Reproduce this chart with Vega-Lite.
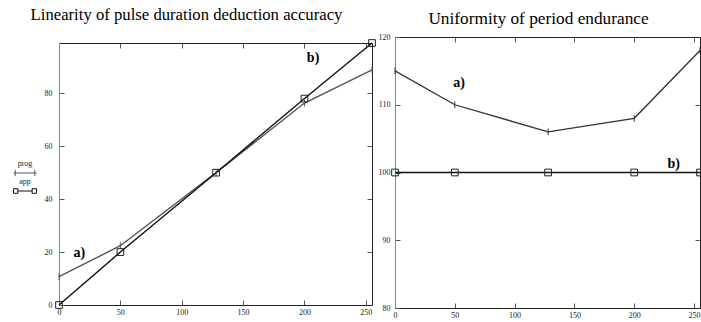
{
  "$schema": "https://vega.github.io/schema/vega-lite/v6.json",
  "padding": {"left": 13, "top": 7, "right": 0, "bottom": 0},
  "autosize": {"type": "pad"},
  "spacing": -1,
  "datasets": {
    "left": [
      {"series": "prog", "x": 0, "y": 10.7},
      {"series": "prog", "x": 50, "y": 22.4},
      {"series": "prog", "x": 128, "y": 50},
      {"series": "prog", "x": 200, "y": 76.3},
      {"series": "prog", "x": 255, "y": 88.8},
      {"series": "app", "x": 0, "y": 0},
      {"series": "app", "x": 50, "y": 20},
      {"series": "app", "x": 128, "y": 50},
      {"series": "app", "x": 200, "y": 78},
      {"series": "app", "x": 255, "y": 99}
    ],
    "leftLabels": [
      {"x": 207, "y": 93.2, "label": "b)"},
      {"x": 16.5, "y": 19.6, "label": "a)"}
    ],
    "right": [
      {"series": "prog", "x": 0, "y": 115},
      {"series": "prog", "x": 50, "y": 110},
      {"series": "prog", "x": 128, "y": 106},
      {"series": "prog", "x": 200, "y": 108},
      {"series": "prog", "x": 255, "y": 118},
      {"series": "app", "x": 0, "y": 100},
      {"series": "app", "x": 50, "y": 100},
      {"series": "app", "x": 128, "y": 100},
      {"series": "app", "x": 200, "y": 100},
      {"series": "app", "x": 255, "y": 100}
    ],
    "rightLabels": [
      {"x": 53.5, "y": 113.2, "label": "a)"},
      {"x": 233, "y": 101.2, "label": "b)"}
    ]
  },
  "hconcat": [
    {
      "width": 313,
      "height": 268,
      "view": {"stroke": null},
      "title": {"text": "Linearity of pulse duration deduction accuracy", "font": "Liberation Serif", "fontSize": 16.7, "fontWeight": "normal", "color": "#000", "anchor": "middle", "frame": "group", "baseline": "alphabetic", "offset": 0, "dx": -29},
      "layer": [
        {
          "data": {"name": "left"},
          "encoding": {
            "x": {"field": "x", "type": "quantitative", "scale": {"domain": [0, 255], "nice": false, "zero": false}},
            "y": {"field": "y", "type": "quantitative", "scale": {"domain": [0, 99], "range": [268, 6], "nice": false, "zero": false}}
          },
          "layer": [
            {
              "mark": {"type": "line", "strokeWidth": 1.4},
              "encoding": {
                "x": {"field": "x", "type": "quantitative", "axis": {"orient": "bottom", "title": null, "values": [0, 50, 100, 150, 200, 250], "labelFlush": false, "labelPadding": 8, "domainColor": "#222"}},
                "y": {"field": "y", "type": "quantitative", "axis": {"orient": "left", "title": null, "values": [0, 20, 40, 60, 80], "labelPadding": 12, "domainColor": "#888"}},
                "color": {
                  "field": "series", "type": "nominal",
                  "scale": {"domain": ["prog", "app"], "range": ["#555555", "#111111"]},
                  "legend": {
                    "orient": "none", "legendX": -46, "legendY": 124, "title": null,
                    "symbolSize": 529, "rowPadding": -4, "labelFont": "Liberation Serif", "labelFontSize": 8, "labelColor": "#222",
                    "labelAlign": "center", "labelOffset": -12, "labelBaseline": "bottom",
                    "encode": {
                      "symbols": {"update": {
                        "shape": {"signal": "datum.value === 'prog' ? 'M-1,0H1M-0.85,-0.28V0.28M0.85,-0.28V0.28' : 'M-0.62,0H0.62M-1,-0.2H-0.62V0.2H-1ZM0.62,-0.2H1V0.2H0.62Z'"},
                        "fill": {"value": "transparent"},
                        "stroke": {"value": "#333"},
                        "strokeWidth": {"value": 1},
                        "opacity": {"value": 1}
                      }},
                      "labels": {"update": {"dy": {"value": -5}, "fill": {"value": "#222"}}}
                    }
                  }
                }
              }
            },
            {
              "transform": [{"filter": "datum.series === 'prog'"}],
              "mark": {"type": "point", "shape": "M0,-1V1", "filled": false, "strokeWidth": 1, "size": 45, "color": "#555555", "opacity": 1}
            },
            {
              "transform": [{"filter": "datum.series === 'app'"}],
              "mark": {"type": "point", "shape": "square", "filled": false, "strokeWidth": 1, "size": 45, "color": "#222222", "opacity": 1}
            },
            {
              "data": {"name": "leftLabels"},
              "mark": {"type": "text", "font": "Liberation Serif", "fontSize": 14, "fontWeight": "bold", "color": "#000", "align": "center", "baseline": "middle"},
              "encoding": {"text": {"field": "label"}}
            }
          ]
        },
        {
          "data": {"name": "left"},
          "mark": {"type": "point", "opacity": 0},
          "encoding": {
            "x": {"field": "x", "type": "quantitative", "scale": {"domain": [0, 255], "nice": false, "zero": false}, "axis": {"orient": "top", "title": null, "labels": false, "values": [50, 100, 150, 200, 250], "offset": -6, "domain": true, "domainColor": "#222"}},
            "y": {"field": "y", "type": "quantitative", "scale": {"domain": [0, 99], "range": [268, 6], "nice": false, "zero": false}, "axis": {"orient": "right", "title": null, "labels": false, "values": [20, 40, 60, 80], "domain": true, "domainColor": "#222"}}
          }
        }
      ],
      "resolve": {"scale": {"x": "independent", "y": "independent"}}
    },
    {
      "width": 305,
      "height": 271,
      "title": {"text": "Uniformity of period endurance", "font": "Liberation Serif", "fontSize": 17.3, "fontWeight": "normal", "color": "#000", "anchor": "middle", "frame": "group", "baseline": "alphabetic", "offset": -8, "dx": -9},
      "layer": [
        {
          "data": {"name": "right"},
          "encoding": {
            "x": {"field": "x", "type": "quantitative", "scale": {"domain": [0, 255], "nice": false, "zero": false}},
            "y": {"field": "y", "type": "quantitative", "scale": {"domain": [80, 120], "nice": false, "zero": false}}
          },
          "layer": [
            {
              "transform": [{"filter": "datum.series === 'prog'"}],
              "mark": {"type": "line", "strokeWidth": 1.3, "color": "#333333"},
              "encoding": {
                "x": {"field": "x", "type": "quantitative", "axis": {"orient": "bottom", "title": null, "values": [0, 50, 100, 150, 200, 250], "labelFlush": false, "labelPadding": 8.5, "domainColor": "#222"}},
                "y": {"field": "y", "type": "quantitative", "axis": {"orient": "left", "title": null, "values": [80, 90, 100, 110, 120], "labelPadding": 10, "domainColor": "#888"}}
              }
            },
            {
              "transform": [{"filter": "datum.series === 'app'"}],
              "mark": {"type": "line", "strokeWidth": 1.6, "color": "#111111"}
            },
            {
              "transform": [{"filter": "datum.series === 'prog'"}],
              "mark": {"type": "point", "shape": "M0,-1V1", "filled": false, "strokeWidth": 1, "size": 45, "color": "#333333", "opacity": 1}
            },
            {
              "transform": [{"filter": "datum.series === 'app'"}],
              "mark": {"type": "point", "shape": "square", "filled": false, "strokeWidth": 1, "size": 45, "color": "#222222", "opacity": 1}
            },
            {
              "data": {"name": "rightLabels"},
              "mark": {"type": "text", "font": "Liberation Serif", "fontSize": 14, "fontWeight": "bold", "color": "#000", "align": "center", "baseline": "middle"},
              "encoding": {"text": {"field": "label"}}
            }
          ]
        },
        {
          "data": {"name": "right"},
          "mark": {"type": "point", "opacity": 0},
          "encoding": {
            "x": {"field": "x", "type": "quantitative", "scale": {"domain": [0, 255], "nice": false, "zero": false}, "axis": {"orient": "top", "title": null, "labels": false, "values": [50, 100, 150, 200, 250], "domain": false}},
            "y": {"field": "y", "type": "quantitative", "scale": {"domain": [80, 120], "nice": false, "zero": false}, "axis": {"orient": "right", "title": null, "labels": false, "values": [90, 110], "domain": false}}
          }
        }
      ],
      "resolve": {"scale": {"x": "independent", "y": "independent"}}
    }
  ],
  "resolve": {"legend": {"color": "independent"}},
  "config": {
    "view": {"stroke": "#222", "strokeWidth": 1},
    "axis": {"grid": false, "labelFont": "Liberation Serif", "labelFontSize": 8, "labelColor": "#222", "tickColor": "#555", "domainColor": "#444", "tickSize": -5, "labelOverlap": false, "minExtent": 0},
    "font": "Liberation Serif"
  }
}
